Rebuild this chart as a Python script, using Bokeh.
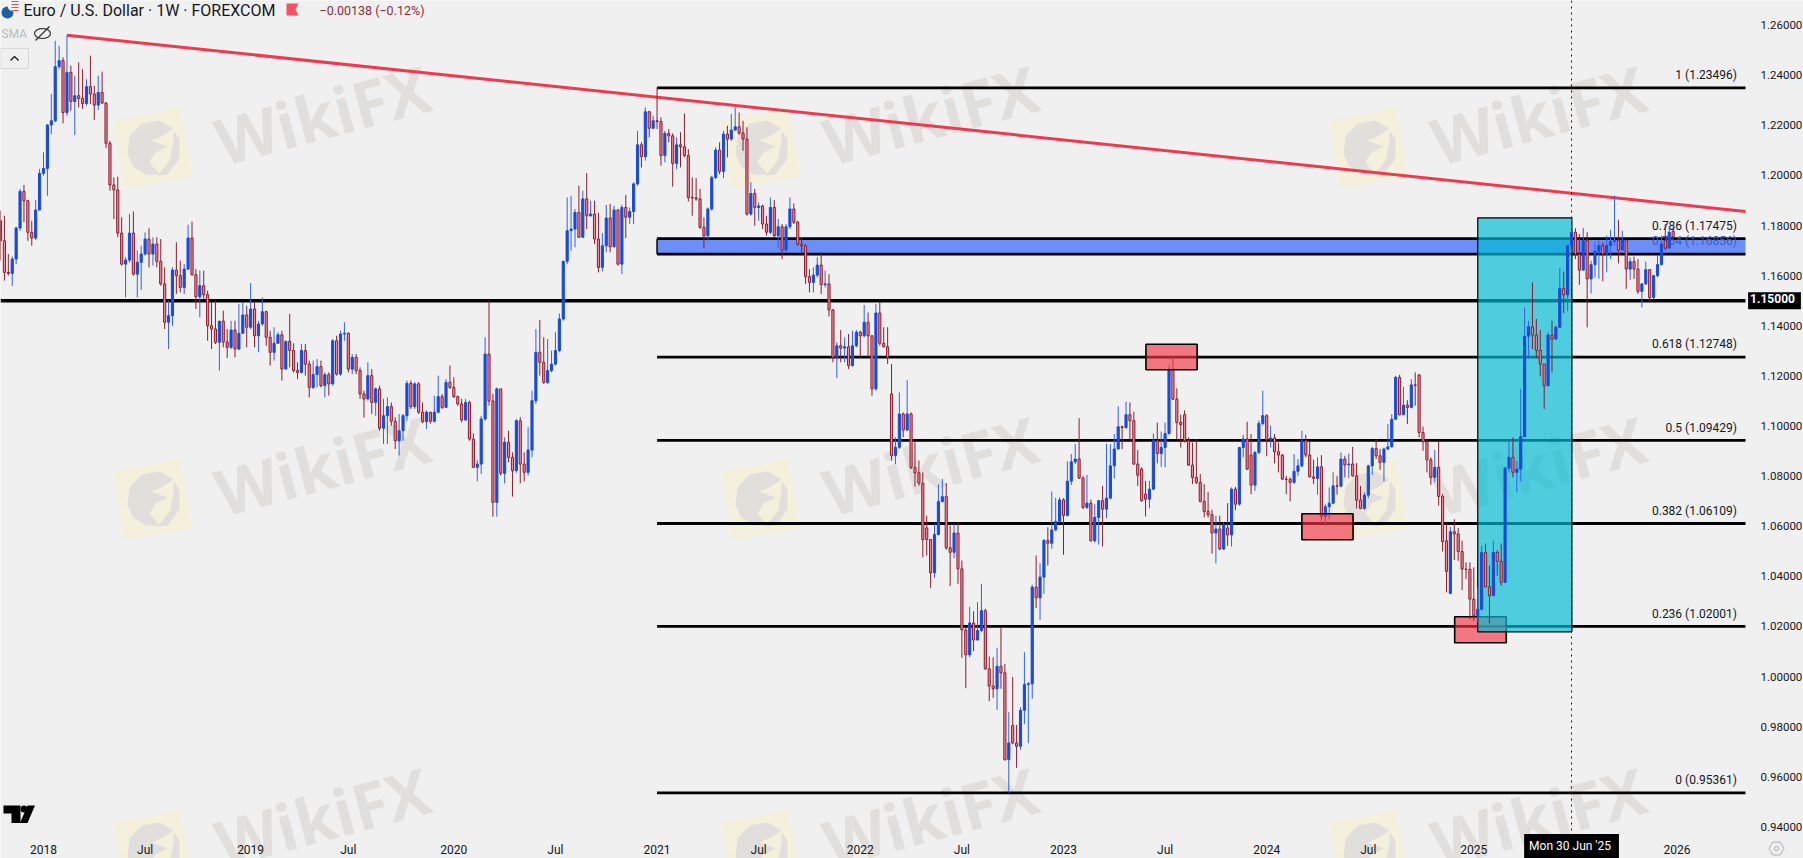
import math
from bokeh.plotting import figure, ColumnDataSource
from bokeh.models import (Range1d, FixedTicker, Label, PolyAnnotation, Span)
from bokeh.embed import file_html
from bokeh.resources import INLINE

# Weekly EUR/USD candles. First bar is 11 weeks before the first bar of 2018.
first_week = -11
first_open = 1.1819
closes = [
1.1739,1.1613,1.1609,1.1666,1.1790,1.1936,1.1899,1.1773,1.1750,1.1862,
1.2008,1.2028,1.2201,1.2218,1.2434,1.2458,1.2251,1.2411,1.2295,1.2318,
1.2307,1.2287,1.2354,1.2325,1.2281,1.2331,1.2289,1.2128,1.1962,1.1942,
1.1770,1.1646,1.1662,1.1770,1.1606,1.1653,1.1686,1.1746,1.1686,1.1726,
1.1657,1.1567,1.1414,1.1440,1.1622,1.1600,1.1553,1.1626,1.1750,1.1604,
1.1516,1.1560,1.1524,1.1400,1.1387,1.1334,1.1418,1.1335,1.1314,1.1383,
1.1307,1.1370,1.1443,1.1394,1.1467,1.1360,1.1407,1.1456,1.1354,1.1294,
1.1330,1.1364,1.1227,1.1338,1.1301,1.1221,1.1214,1.1301,1.1247,1.1154,
1.1205,1.1237,1.1161,1.1205,1.1168,1.1340,1.1207,1.1367,1.1370,1.1227,
1.1274,1.1221,1.1128,1.1108,1.1201,1.1094,1.1148,1.0991,1.1041,1.1077,
1.1019,1.0941,1.0981,1.1041,1.1170,1.1077,1.1168,1.1055,1.1017,1.1055,
1.1019,1.1055,1.1117,1.1074,1.1174,1.1154,1.1117,1.1088,1.1024,1.1094,
1.0948,1.0835,1.0848,1.1028,1.1287,1.1100,1.0695,1.1148,1.0811,1.0935,
1.0875,1.0822,1.1021,1.0848,1.0815,1.0904,1.1101,1.1294,1.1254,1.1174,
1.1221,1.1247,1.1301,1.1427,1.1657,1.1779,1.1786,1.1852,1.1753,1.1906,
1.1839,1.1846,1.1746,1.1633,1.1719,1.1830,1.1715,1.1862,1.1646,1.1872,
1.1833,1.1856,1.1966,1.2122,1.2075,1.2254,1.2188,1.2218,1.2215,1.2079,
1.2168,1.2158,1.2048,1.2122,1.2114,1.2079,1.1912,1.1910,1.1906,1.1793,
1.1759,1.1866,1.1992,1.2101,1.2016,1.2165,1.2145,1.2181,1.2194,1.2169,
1.2145,1.1846,1.1928,1.1872,1.1878,1.1806,1.1773,1.1872,1.1759,1.1795,
1.1702,1.1795,1.1866,1.1813,1.1726,1.1719,1.1596,1.1573,1.1602,1.1642,
1.1564,1.1567,1.1463,1.1274,1.1320,1.1311,1.1316,1.1241,1.1320,1.1374,
1.1360,1.1414,1.1360,1.1148,1.1451,1.1330,1.1316,1.1274,1.0882,1.0915,
1.1048,1.0984,1.1048,1.0834,1.0813,1.0772,1.0547,1.0547,1.0414,1.0567,
1.0698,1.0718,1.0514,1.0496,1.0573,1.0430,1.0186,1.0087,1.0214,1.0146,
1.0184,1.0263,1.0031,0.9962,0.9951,1.0041,1.0015,0.9668,0.9735,0.9735,
0.9722,0.9865,0.9968,0.9971,1.0357,1.0314,1.0397,1.0543,1.0532,1.0585,
1.0619,1.0705,1.0643,1.0780,1.0857,1.0868,1.0792,1.0675,1.0692,1.0542,
1.0635,1.0702,1.0668,1.0712,1.0841,1.0908,1.0997,1.0994,1.1045,1.1021,
1.0848,1.0804,1.0702,1.0708,1.0748,1.0941,1.0890,1.0914,1.0970,1.1227,
1.1107,1.1014,1.1005,1.0941,1.0844,1.0795,1.0775,1.0699,1.0659,1.0646,
1.0573,1.0589,1.0509,1.0606,1.0565,1.0748,1.0688,1.0914,1.0948,1.0828,
1.0764,1.0894,1.1010,1.1041,1.0945,1.0952,1.0897,1.0884,1.0788,1.0787,
1.0775,1.0819,1.0841,1.0941,1.0884,1.0797,1.0791,1.0837,1.0639,1.0678,
1.0692,1.0761,1.0760,1.0868,1.0845,1.0848,1.0801,1.0704,1.0671,1.0724,
1.0841,1.0910,1.0881,1.0855,1.0908,1.0917,1.1027,1.1194,1.1045,1.1083,
1.1074,1.1164,1.1162,1.0974,1.0937,1.0865,1.0795,1.0835,1.0719,1.0539,
1.0420,1.0578,1.0569,1.0499,1.0429,1.0428,1.0309,1.0243,1.0269,1.0495,
1.0358,1.0323,1.0495,1.0460,1.0376,1.0832,1.0875,1.0815,1.0828,1.0958,
1.1358,1.1396,1.1363,1.1301,1.1247,1.1161,1.1363,1.1347,1.1394,1.1549,
1.1523,1.1720,1.1773,1.1686,1.1622,1.1740,1.1587,1.1644,1.1697,1.1720,
1.1686,1.1720,1.1737,1.1740,1.1702,1.1742,1.1626,1.1656,1.1626,1.1537,
1.1567,1.1624,1.1513,1.1600,1.1644,1.1726,1.1710,1.1773,1.1755]
highs = [
1.1859,1.1839,1.1686,1.1676,1.1795,1.1946,1.1962,1.1899,1.1819,1.1902,
1.2025,1.2092,1.2205,1.2325,1.2537,1.2517,1.2471,1.2559,1.2438,1.2398,
1.2451,1.2424,1.2384,1.2478,1.2358,1.2398,1.2414,1.2291,1.2138,1.1992,
1.1995,1.1833,1.1673,1.1846,1.1856,1.1700,1.1719,1.1773,1.1789,1.1753,
1.1753,1.1746,1.1633,1.1500,1.1633,1.1733,1.1660,1.1646,1.1803,1.1815,
1.1626,1.1620,1.1620,1.1540,1.1493,1.1500,1.1420,1.1460,1.1387,1.1420,
1.1420,1.1487,1.1493,1.1480,1.1570,1.1493,1.1420,1.1513,1.1460,1.1380,
1.1394,1.1374,1.1380,1.1340,1.1447,1.1330,1.1254,1.1327,1.1327,1.1261,
1.1261,1.1267,1.1261,1.1214,1.1214,1.1347,1.1360,1.1380,1.1414,1.1374,
1.1287,1.1287,1.1234,1.1141,1.1254,1.1227,1.1154,1.1161,1.1108,1.1114,
1.1094,1.1035,1.1048,1.1048,1.1181,1.1181,1.1175,1.1175,1.1094,1.1062,
1.1055,1.1121,1.1201,1.1128,1.1187,1.1241,1.1194,1.1121,1.1108,1.1108,
1.1101,1.0971,1.0864,1.1041,1.1354,1.1500,1.1128,1.1154,1.1148,1.0955,
1.0981,1.0895,1.1028,1.1035,1.0895,1.0995,1.1141,1.1387,1.1423,1.1354,
1.1347,1.1301,1.1374,1.1449,1.1660,1.1912,1.1919,1.1866,1.1959,1.1939,
1.2009,1.1899,1.1899,1.1851,1.1769,1.1882,1.1886,1.1879,1.1866,1.1883,
1.1922,1.1872,1.1972,1.2178,1.2132,1.2271,1.2258,1.2238,1.2351,1.2232,
1.2178,1.2185,1.2168,1.2152,1.2172,1.2247,1.2105,1.1992,1.1989,1.1946,
1.1832,1.1872,1.1999,1.2112,1.2132,1.2178,1.2198,1.2245,1.2271,1.2251,
1.2218,1.2192,1.1972,1.1946,1.1892,1.1883,1.1839,1.1912,1.1902,1.1826,
1.1806,1.1806,1.1912,1.1888,1.1819,1.1753,1.1726,1.1626,1.1633,1.1673,
1.1693,1.1620,1.1606,1.1467,1.1334,1.1383,1.1354,1.1367,1.1380,1.1383,
1.1380,1.1483,1.1453,1.1360,1.1487,1.1494,1.1394,1.1394,1.1247,1.0955,
1.1134,1.1054,1.1183,1.1054,1.0935,1.0862,1.0815,1.0642,1.0549,1.0609,
1.0766,1.0789,1.0772,1.0603,1.0609,1.0616,1.0463,1.0197,1.0279,1.0261,
1.0297,1.0370,1.0270,1.0080,1.0077,1.0115,1.0197,1.0051,0.9858,0.9998,
0.9807,0.9878,1.0097,0.9978,1.0367,1.0483,1.0452,1.0549,1.0596,1.0738,
1.0713,1.0716,1.0712,1.0859,1.0888,1.0928,1.1031,1.0801,1.0805,1.0706,
1.0688,1.0704,1.0761,1.0930,1.0928,1.0968,1.1078,1.1001,1.1097,1.1094,
1.1057,1.0904,1.0835,1.0781,1.0781,1.0970,1.1014,1.0978,1.1014,1.1244,
1.1276,1.1150,1.1045,1.1063,1.0954,1.0934,1.0948,1.0808,1.0768,1.0737,
1.0666,1.0642,1.0642,1.0615,1.0692,1.0755,1.0757,1.0917,1.0964,1.1017,
1.0968,1.0901,1.1021,1.1141,1.1047,1.1001,1.0968,1.0934,1.0888,1.0801,
1.0795,1.0888,1.0868,1.0981,1.0965,1.0941,1.0865,1.0875,1.0884,1.0688,
1.0755,1.0815,1.0801,1.0894,1.0881,1.0890,1.0917,1.0852,1.0761,1.0735,
1.0845,1.0917,1.0948,1.0908,1.0914,1.1008,1.1047,1.1200,1.1204,1.1156,
1.1103,1.1187,1.1214,1.1207,1.0997,1.0941,1.0875,1.0904,1.0937,1.0728,
1.0611,1.0598,1.0628,1.0593,1.0542,1.0456,1.0456,1.0436,1.0356,1.0522,
1.0531,1.0442,1.0542,1.0505,1.0531,1.0835,1.0944,1.0954,1.0861,1.1147,
1.1473,1.1420,1.1573,1.1427,1.1383,1.1247,1.1374,1.1420,1.1400,1.1630,
1.1616,1.1722,1.1826,1.1789,1.1766,1.1790,1.1773,1.1660,1.1733,1.1740,
1.1733,1.1759,1.1783,1.1919,1.1823,1.1779,1.1742,1.1673,1.1676,1.1666,
1.1569,1.1656,1.1626,1.1603,1.1682,1.1759,1.1806,1.1799,1.1793]
lows = [
1.1660,1.1580,1.1600,1.1559,1.1646,1.1779,1.1813,1.1739,1.1719,1.1742,
1.1859,1.1999,1.1919,1.2165,1.2212,1.2424,1.2208,1.2238,1.2258,1.2161,
1.2271,1.2265,1.2278,1.2285,1.2221,1.2261,1.2285,1.2110,1.1939,1.1826,
1.1753,1.1640,1.1513,1.1653,1.1600,1.1513,1.1543,1.1680,1.1633,1.1640,
1.1633,1.1560,1.1387,1.1307,1.1400,1.1527,1.1533,1.1527,1.1622,1.1600,
1.1467,1.1434,1.1507,1.1340,1.1307,1.1327,1.1221,1.1314,1.1271,1.1307,
1.1274,1.1303,1.1367,1.1314,1.1387,1.1314,1.1294,1.1400,1.1320,1.1241,
1.1261,1.1327,1.1181,1.1227,1.1234,1.1214,1.1187,1.1210,1.1201,1.1114,
1.1148,1.1154,1.1154,1.1114,1.1121,1.1161,1.1201,1.1201,1.1340,1.1214,
1.1207,1.1207,1.1108,1.1034,1.1101,1.1048,1.1041,1.0981,1.0928,1.0928,
1.1001,1.0908,1.0882,1.0941,1.1021,1.1068,1.1068,1.1048,1.1011,1.0988,
1.1009,1.1014,1.1050,1.1068,1.1072,1.1148,1.1112,1.1081,1.1014,1.1021,
1.0941,1.0832,1.0779,1.0808,1.1021,1.1081,1.0638,1.0638,1.0802,1.0771,
1.0855,1.0718,1.0813,1.0771,1.0779,1.0802,1.0875,1.1088,1.1201,1.1168,
1.1168,1.1214,1.1241,1.1294,1.1420,1.1646,1.1700,1.1713,1.1750,1.1793,
1.1786,1.1835,1.1726,1.1613,1.1617,1.1693,1.1693,1.1713,1.1640,1.1606,
1.1750,1.1806,1.1806,1.1959,1.2032,1.2059,1.2152,1.2185,1.2185,1.2039,
1.2052,1.2132,1.1955,1.2025,1.2032,1.2072,1.1896,1.1839,1.1899,1.1786,
1.1709,1.1739,1.1859,1.1985,1.2005,1.1989,1.2072,1.2138,1.2178,1.2162,
1.2098,1.1839,1.1839,1.1799,1.1819,1.1786,1.1759,1.1766,1.1755,1.1713,
1.1666,1.1697,1.1786,1.1806,1.1719,1.1686,1.1567,1.1533,1.1533,1.1593,
1.1527,1.1553,1.1437,1.1254,1.1191,1.1254,1.1254,1.1227,1.1237,1.1314,
1.1274,1.1354,1.1274,1.1121,1.1141,1.1320,1.1314,1.1247,1.0862,1.0848,
1.0908,1.0955,1.0981,1.0828,1.0758,1.0762,1.0476,1.0483,1.0354,1.0394,
1.0563,1.0696,1.0506,1.0361,1.0472,1.0370,1.0075,0.9954,1.0077,1.0101,
1.0144,1.0177,1.0027,0.9902,0.9915,0.9867,0.9951,0.9665,0.9536,0.9730,
0.9636,0.9708,0.9811,0.9734,0.9911,1.0273,1.0226,1.0330,1.0443,1.0510,
1.0580,1.0612,1.0486,1.0639,1.0765,1.0848,1.0788,1.0668,1.0668,1.0539,
1.0535,1.0526,1.0519,1.0632,1.0708,1.0791,1.0908,1.0908,1.0988,1.0941,
1.0845,1.0761,1.0698,1.0639,1.0671,1.0744,1.0851,1.0837,1.0835,1.0965,
1.1103,1.0948,1.0914,1.0934,1.0841,1.0768,1.0768,1.0695,1.0635,1.0635,
1.0491,1.0452,1.0505,1.0505,1.0522,1.0519,1.0664,1.0682,1.0875,1.0824,
1.0728,1.0741,1.0888,1.1001,1.0879,1.0914,1.0851,1.0815,1.0784,1.0728,
1.0699,1.0768,1.0801,1.0835,1.0875,1.0795,1.0768,1.0726,1.0622,1.0602,
1.0628,1.0688,1.0726,1.0755,1.0795,1.0792,1.0797,1.0671,1.0668,1.0666,
1.0712,1.0805,1.0868,1.0825,1.0779,1.0905,1.0914,1.1025,1.1042,1.1045,
1.1008,1.1070,1.1081,1.0954,1.0901,1.0815,1.0765,1.0775,1.0682,1.0499,
1.0336,1.0329,1.0465,1.0462,1.0345,1.0389,1.0229,1.0223,1.0216,1.0263,
1.0356,1.0212,1.0323,1.0402,1.0362,1.0376,1.0815,1.0795,1.0735,1.0779,
1.0955,1.1267,1.1307,1.1270,1.1198,1.1068,1.1158,1.1214,1.1344,1.1391,
1.1450,1.1458,1.1686,1.1666,1.1563,1.1620,1.1394,1.1529,1.1593,1.1587,
1.1577,1.1613,1.1666,1.1720,1.1649,1.1700,1.1547,1.1583,1.1587,1.1527,
1.1473,1.1563,1.1493,1.1507,1.1593,1.1641,1.1702,1.1708,1.1746]
# Weeks whose open visibly differs from the previous close
gap_weeks = [217, 226, 248, 281, 282, 292, 303, 309, 352, 359, 360, 415, 417]
gap_opens = [1.1128, 1.0593, 0.9805, 1.0828, 1.0728, 1.1045, 1.0593, 1.0884, 1.1204, 1.0542, 1.0332, 1.1740, 1.1777]

# Time axis: bar number of each labelled week
time_ticks = [0, 26, 53, 78, 105, 131, 157, 183, 209, 235, 261, 287, 313, 339, 366, 418]
time_labels = ["2018", "Jul", "2019", "Jul", "2020", "Jul", "2021", "Jul", "2022", "Jul", "2023", "Jul", "2024", "Jul", "2025", "2026"]
price_ticks = [0.94, 0.96, 0.98, 1.00, 1.02, 1.04, 1.06, 1.08, 1.10, 1.12, 1.14, 1.16, 1.18, 1.20, 1.22, 1.24, 1.26]

fib_ratios = ["1", "0.786", "0.764", "0.618", "0.5", "0.382", "0.236", "0"]
fib_prices = [1.23496, 1.17475, 1.16856, 1.12748, 1.09429, 1.06109, 1.02001, 0.95361]
fib_start_week = 157
level_price = 1.15
trend_weeks = [6, 435.5]
trend_prices = [1.25594, 1.18559]
crosshair_week = 391
# Rectangles: week from, week to, price top, price bottom
cyan_box = (367.0, 391.1, 1.18308, 1.01787)
red_boxes = [(282.1, 295.2, 1.13264, 1.12242), (322.0, 335.1, 1.06496, 1.05458), (361.1, 374.3, 1.02385, 1.01348)]

BG = "#f0f0f0"
PXW = 3.908     # pixels per week
PXP = 2505.8    # pixels per unit of price
W0 = -43 / PXW
P1 = 1.26980
FW, FH = 1803, 858
W1 = W0 + FW / PXW
P0 = P1 - FH / PXP
def X(px):
    return W0 + px / PXW
def Y(py):
    return P1 - py / PXP
RIGHT = X(1745)
BOTTOM = Y(835)

p = figure(width=FW, height=FH, x_range=Range1d(W0, W1), y_range=Range1d(P0, P1),
           output_backend="svg", toolbar_location=None, x_axis_location="below", y_axis_location="right",
           background_fill_color=BG, border_fill_color=BG, outline_line_color=None,
           min_border=0)
p.grid.visible = False

ax = p.xaxis[0]
ay = p.yaxis[0]
ax.fixed_location = BOTTOM
ay.fixed_location = RIGHT
ax.ticker = FixedTicker(ticks=time_ticks)
ax.major_label_overrides = {t: s for t, s in zip(time_ticks, time_labels)}
ay.ticker = FixedTicker(ticks=price_ticks)
ay.major_label_overrides = {t: f"{t:.5f}" for t in price_ticks}
for a in (ax, ay):
    a.axis_line_color = None
    a.major_tick_line_color = None
    a.minor_tick_line_color = None
    a.major_label_text_color = "#131722"
    a.major_label_text_font = "Roboto"
ax.major_label_text_font_size = "12px"
ay.major_label_text_font_size = "11.5px"
ax.major_label_standoff = 1
ay.major_label_standoff = 9

# Watermarks
WM_GREY = "#e1dedc"
LOGO = "#f4f0dc"
logo_corners = [(-40, -28), (27, -40), (39, 29), (-30, 40)]
eagle = [(-26, 6), (-24, -12), (-12, -25), (6, -28), (20, -20), (8, -12), (-2, -8), (14, -2), (2, 4), (-4, 14), (6, 26), (-8, 26), (-20, 18)]
arc = [(14, -26), (26, -10), (26, 10), (14, 26), (4, 27), (16, 12), (20, -6), (20, -18)]
for cx in (0, 608, 1216):
    for cy in (0, 351, 702):
        for pts, col in ((logo_corners, LOGO), (eagle, WM_GREY), (arc, WM_GREY)):
            p.add_layout(PolyAnnotation(xs=[X(153 + cx + a) for a, b in pts], ys=[Y(148 + cy + b) for a, b in pts],
                                        fill_color=col, fill_alpha=1, line_alpha=0, level="underlay"))
        p.add_layout(Label(x=X(322 + cx), y=Y(114 + cy), text="WikiFX", text_color=WM_GREY, text_font="Open Sans",
                           text_font_style="bold", text_font_size="64px", angle=0.26, text_align="center",
                           text_baseline="middle", level="underlay"))

# Blue band and levels
p.quad(left=[fib_start_week], right=[RIGHT], top=[fib_prices[1]], bottom=[fib_prices[2]], fill_color="#6b8efa", line_color=None)
p.line([W0, RIGHT], [level_price, level_price], line_color="black", line_width=3.5)
p.segment(x0=[fib_start_week] * len(fib_prices), x1=[RIGHT] * len(fib_prices), y0=fib_prices, y1=fib_prices, line_color="black", line_width=2.8)
p.segment(x0=[fib_start_week], x1=[fib_start_week], y0=[fib_prices[2]], y1=[fib_prices[1]], line_color="black", line_width=1.5)
fib_text = [f"{r} ({v:.5f})" for r, v in zip(fib_ratios, fib_prices)]
fib_cols = ["#131722", "#131722", "#3f5cc0", "#131722", "#131722", "#131722", "#131722", "#131722"]
p.text(x=[X(1736.5)] * len(fib_text), y=fib_prices, text=fib_text, text_align="right", text_baseline="middle",
       y_offset=-12.7, text_font={"value": "Roboto"}, text_font_size={"value": "12px"}, text_color=fib_cols)

# Trend line
p.line(trend_weeks, trend_prices, line_color="#f0394f", line_width=3)

# Low red box sits under the cyan box
def red_box(b):
    p.quad(left=[b[0]], right=[b[1]], top=[b[2]], bottom=[b[3]], fill_color="#f23645", fill_alpha=0.65, line_color="black", line_width=1.6)
red_box(red_boxes[2])
p.quad(left=[cyan_box[0]], right=[cyan_box[1]], top=[cyan_box[2]], bottom=[cyan_box[3]], fill_color="#00bcd4", fill_alpha=0.68, line_color="black", line_width=1.2)

# Candles
assert len(closes) == len(highs) == len(lows) == 429
weeks = list(range(first_week, first_week + len(closes)))
opens = [first_open] + closes[:-1]
for w, o in zip(gap_weeks, gap_opens):
    opens[w - first_week] = o
UP, UPW = "#1a4bd6", "#2f62e6"
DN, DNF = "#8c1c2e", "#f28b98"
up = [i for i in range(len(weeks)) if closes[i] >= opens[i]]
dn = [i for i in range(len(weeks)) if closes[i] < opens[i]]
def src(ix):
    return ColumnDataSource(dict(w=[weeks[i] for i in ix], o=[opens[i] for i in ix], c=[closes[i] for i in ix],
                                 h=[highs[i] for i in ix], l=[lows[i] for i in ix]))
su, sd = src(up), src(dn)
p.segment("w", "h", "w", "l", source=su, line_color=UPW, line_width=1)
p.segment("w", "h", "w", "l", source=sd, line_color=DN, line_width=1)
p.vbar(x="w", width=0.55, top="c", bottom="o", source=su, fill_color=UP, line_color=UP, line_width=1)
p.vbar(x="w", width=0.55, top="o", bottom="c", source=sd, fill_color=DNF, line_color=DN, line_width=1)

red_box(red_boxes[0])
red_box(red_boxes[1])

# Crosshair and tags
p.add_layout(Span(location=crosshair_week, dimension="height", line_color="#131722", line_dash="dotted", line_width=1))
p.add_layout(Label(x=X(1774), y=level_price, text="1.15000", text_color="white", text_font="Roboto", text_font_size="12px",
                   text_font_style="bold", text_align="center", text_baseline="middle", background_fill_color="black",
                   padding=(2, 6, 2, 6)))
p.add_layout(Label(x=crosshair_week, y=Y(847), text="Mon 30 Jun '25", text_color="white", text_font="Roboto", text_font_size="12px",
                   text_align="center", text_baseline="middle", background_fill_color="black", padding=(5, 8, 5, 8)))

# Header
p.add_layout(Label(x=X(23), y=Y(10), text="Euro / U.S. Dollar · 1W · FOREXCOM", text_color="#131722", text_font="Roboto",
                   text_font_size="16px", text_baseline="middle"))
p.add_layout(Label(x=X(319), y=Y(10), text="−0.00138 (−0.12%)", text_color="#8d2c3d", text_font="Roboto",
                   text_font_size="12.5px", text_baseline="middle"))
p.add_layout(Label(x=X(1), y=Y(33), text="SMA", text_color="#bcbcbc", text_font="Roboto", text_font_size="12px", text_baseline="middle"))
flag = [(286, 3), (298, 3), (295, 9), (298, 15), (286, 15)]
p.patch([X(a) for a, b in flag], [Y(b) for a, b in flag], fill_color="#f7525f", line_color=None)
p.scatter([X(7)], [Y(12)], size=12, marker="circle", fill_color="#1c5fa5", line_color=None)
p.scatter([X(13)], [Y(5)], size=12, marker="circle", fill_color="#f4f4f8", line_color=None)
for ry in (1, 4, 7, 10):
    p.line([X(11), X(18)], [Y(ry), Y(ry)], line_color="#d9534f", line_width=1.2)
# Eye icon
eye_x = [42 + 8 * math.cos(t * math.pi / 8) for t in range(17)]
eye_y = [33 + 5 * math.sin(t * math.pi / 8) for t in range(17)]
p.line([X(a) for a in eye_x], [Y(b) for b in eye_y], line_color="#333333", line_width=1.2)
p.line([X(35), X(49)], [Y(40), Y(26)], line_color="#333333", line_width=1.2)
# Collapse box
p.quad(left=[X(0.5)], right=[X(28)], top=[Y(48)], bottom=[Y(68)], fill_color=BG, line_color="#d8d8d8", line_width=1)
p.line([X(10), X(14), X(18)], [Y(60), Y(56), Y(60)], line_color="#131722", line_width=1.3)

# TradingView mark
tv_t = [(3, 805), (20, 805), (20, 822.5), (11, 822.5), (11, 813), (3, 813)]
tv_v = [(27, 805), (34.5, 805), (27, 822.5), (19.5, 822.5)]
for pts in (tv_t, tv_v):
    p.patch([X(a) for a, b in pts], [Y(b) for a, b in pts], fill_color="#000000", line_color=None)
p.scatter([X(23.5)], [Y(808.5)], size=7, marker="circle", fill_color="#000000", line_color=None)

# Settings icon in the price scale corner
hexa = [(1776 + 7.5 * math.cos(math.pi / 3 * k), 848 + 7.5 * math.sin(math.pi / 3 * k)) for k in range(6)]
circ = [(1776 + 2.2 * math.cos(math.pi / 4 * k), 848 + 2.2 * math.sin(math.pi / 4 * k)) for k in range(8)]
for pts in (hexa, circ):
    p.add_layout(PolyAnnotation(xs=[X(a) for a, b in pts], ys=[Y(b) for a, b in pts], fill_alpha=0, line_color="#131722", line_width=1))

open("out.html", "w").write(file_html(p, INLINE))
